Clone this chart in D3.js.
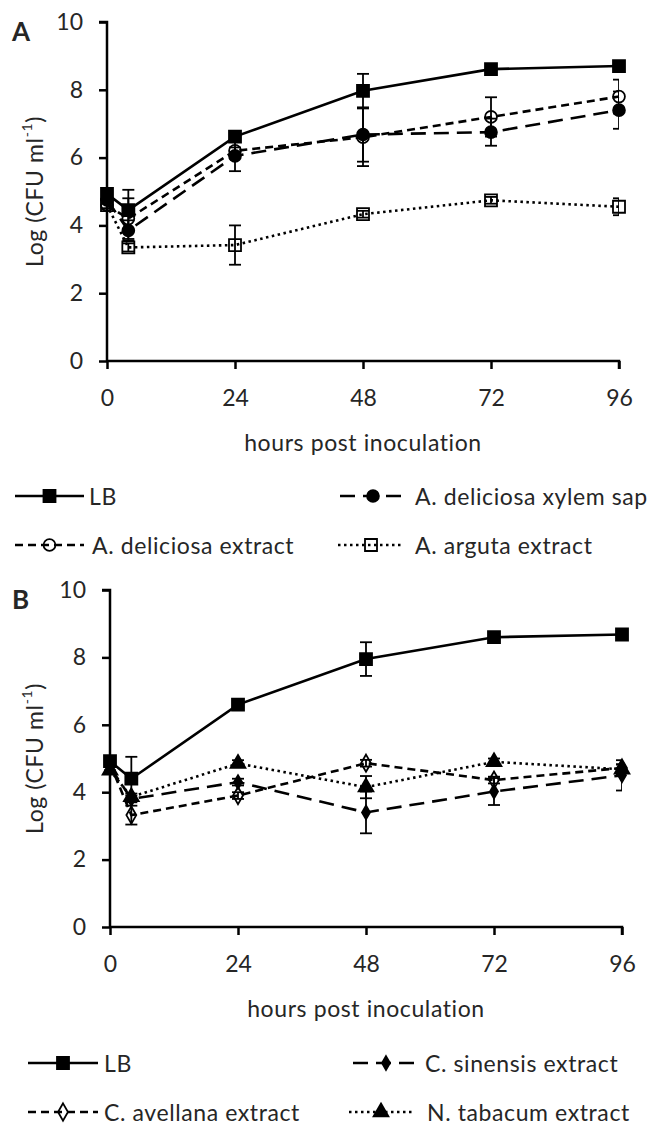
<!DOCTYPE html>
<html lang="en">
<head>
  <meta charset="UTF-8">
  <title>Growth curves</title>
  <style>
    body { margin: 0; background: #fff; }
    svg { display: block; }
    text { font-family: Lato, "Open Sans", sans-serif; fill: #262626; }
  </style>
</head>
<body>
  <div id="chart"></div>
  <script src="https://d3js.org/d3.v7.min.js"></script>
  <script>
    // sampling times (hours post inoculation)
    var hours = [0, 4, 24, 48, 72, 96];
    var xTicks = [0, 24, 48, 72, 96];
    var yTicks = [0, 2, 4, 6, 8, 10];

    // panel A
    var lbA = [4.93, 4.45, 6.62, 7.97, 8.61, 8.70];
    var lbAErr = [0.08, 0.6, 0.12, 0.5, 0.05, 0.06];
    var xylemSap = [4.75, 3.85, 6.05, 6.68, 6.75, 7.40];
    var xylemSapErr = [0.08, 0.3, 0.45, 0.8, 0.4, 0.55];
    var delExtract = [4.6, 4.2, 6.2, 6.6, 7.2, 7.8];
    var delExtractErr = [0.1, 0.6, 0.1, 0.85, 0.58, 0.5];
    var argExtract = [4.6, 3.35, 3.42, 4.33, 4.74, 4.55];
    var argExtractErr = [0.1, 0.12, 0.58, 0.1, 0.1, 0.25];

    // panel B
    var lbB = [4.92, 4.4, 6.6, 7.95, 8.6, 8.68];
    var lbBErr = [0.1, 0.65, 0.15, 0.5, 0.05, 0.05];
    var sinExtract = [4.75, 3.8, 4.3, 3.4, 4.02, 4.5];
    var sinExtractErr = [0.1, 0.1, 0.1, 0.62, 0.4, 0.45];
    var aveExtract = [4.85, 3.32, 3.9, 4.86, 4.36, 4.72];
    var aveExtractErr = [0.1, 0.28, 0.1, 0.1, 0.1, 0.1];
    var tabExtract = [4.65, 3.86, 4.85, 4.15, 4.9, 4.68];
    var tabExtractErr = [0.1, 0.1, 0.1, 0.33, 0.1, 0.15];

    var W = 651, H = 1127;
    var FS = 23, LS = 0.6;
    var svg = d3.select("#chart").append("svg")
      .attr("width", W).attr("height", H);

    var dashes = {
      solid: null,
      long: "15,8",
      short: "8,5",
      dot: "2.5,3.5"
    };

    function drawMarker(g, type, x, y) {
      var sym, size, fill = "#000";
      if (type === "square") { sym = d3.symbolSquare; size = 144; }
      else if (type === "squareOpen") { sym = d3.symbolSquare; size = 144; fill = "none"; }
      else if (type === "circle") { sym = d3.symbolCircle; size = 110; }
      else if (type === "circleOpen") { sym = d3.symbolCircle; size = 110; fill = "none"; }
      else if (type === "diamond") { sym = d3.symbolDiamond; size = 55; }
      else if (type === "diamondOpen") { sym = d3.symbolDiamond; size = 85; fill = "none"; }
      else { sym = d3.symbolTriangle; size = 95; }
      g.append("path")
        .attr("d", d3.symbol().type(sym).size(size)())
        .attr("transform", "translate(" + x + "," + y + ")")
        .attr("fill", fill)
        .attr("stroke", "#000")
        .attr("stroke-width", 1.8);
    }

    function drawPanel(cfg) {
      var x = d3.scaleLinear().domain([0, 96]).range([cfg.left, cfg.right]);
      var y = d3.scaleLinear().domain([0, 10]).range([cfg.bottom, cfg.top]);
      var g = svg.append("g");

      var clipId = "clip-" + cfg.label;
      svg.append("clipPath").attr("id", clipId)
        .append("rect")
        .attr("x", cfg.left - 20).attr("y", cfg.top - 5)
        .attr("width", cfg.right - cfg.left + 20).attr("height", cfg.bottom - cfg.top + 10);

      // axes
      var yAxis = g.append("g")
        .attr("transform", "translate(" + cfg.left + ",0)")
        .call(d3.axisLeft(y).tickValues(yTicks).tickSize(8).tickPadding(16));
      var xAxis = g.append("g")
        .attr("transform", "translate(0," + cfg.bottom + ")")
        .call(d3.axisBottom(x).tickValues(xTicks).tickSize(8).tickPadding(21));
      [xAxis, yAxis].forEach(function(a) {
        a.select(".domain").attr("stroke", "#000").attr("stroke-width", 2.5);
        a.selectAll(".tick line").attr("stroke", "#000").attr("stroke-width", 2.5);
        a.selectAll(".tick text").attr("font-size", FS).attr("fill", "#262626")
          .attr("font-family", "Lato, 'Open Sans', sans-serif");
      });
      yAxis.select(".domain").attr("d", "M0," + cfg.bottom + "V" + cfg.top + "h-8");
      xAxis.select(".domain").attr("d", "M" + cfg.left + ",0H" + cfg.right + "v8");

      // axis titles
      g.append("text")
        .attr("x", (cfg.left + cfg.right) / 2)
        .attr("y", cfg.bottom + 81)
        .attr("text-anchor", "middle")
        .attr("dominant-baseline", "central")
        .attr("font-size", FS)
        .attr("letter-spacing", LS)
        .text("hours post inoculation");

      var yl = g.append("text")
        .attr("transform", "translate(34," + ((cfg.top + cfg.bottom) / 2) + ") rotate(-90)")
        .attr("text-anchor", "middle")
        .attr("dominant-baseline", "central")
        .attr("font-size", FS)
        .attr("letter-spacing", LS);
      yl.append("tspan").text("Log (CFU ml");
      yl.append("tspan").attr("font-size", 14).attr("dy", -8).text("-1");
      yl.append("tspan").attr("dy", 8).text(")");

      g.append("text")
        .attr("x", 12).attr("y", cfg.top + 19)
        .attr("font-size", 26).attr("font-weight", "bold")
        .text(cfg.label);

      // series
      var plot = g.append("g");
      cfg.series.forEach(function(s) {
        var pts = hours.map(function(h, i) { return [x(h), y(s.values[i])]; });
        plot.append("path")
          .attr("d", d3.line()(pts))
          .attr("fill", "none")
          .attr("stroke", "#000")
          .attr("stroke-width", 2.6)
          .attr("stroke-dasharray", dashes[s.dash]);
        var eb = plot.append("g").attr("clip-path", "url(#" + clipId + ")");
        hours.forEach(function(h, i) {
          var cx = x(h), lo = y(s.values[i] - s.err[i]), hi = y(s.values[i] + s.err[i]);
          eb.append("line").attr("x1", cx).attr("x2", cx).attr("y1", lo).attr("y2", hi)
            .attr("stroke", "#000").attr("stroke-width", 1.8);
          [lo, hi].forEach(function(v) {
            eb.append("line").attr("x1", cx - 6).attr("x2", cx + 6).attr("y1", v).attr("y2", v)
              .attr("stroke", "#000").attr("stroke-width", 1.8);
          });
        });
        pts.forEach(function(p) { drawMarker(plot, s.marker, p[0], p[1]); });
      });

      // legend
      cfg.legend.forEach(function(item) {
        var s = cfg.series[item.idx];
        g.append("line")
          .attr("x1", item.x0).attr("x2", item.x1)
          .attr("y1", item.y).attr("y2", item.y)
          .attr("stroke", "#000").attr("stroke-width", 2.6)
          .attr("stroke-dasharray", dashes[s.dash]);
        drawMarker(g, s.marker, (item.x0 + item.x1) / 2, item.y);
        g.append("text")
          .attr("x", item.tx).attr("y", item.y)
          .attr("dominant-baseline", "central")
          .attr("font-size", FS)
          .attr("letter-spacing", LS)
          .text(s.name);
      });
    }

    drawPanel({
      label: "A",
      left: 107, right: 619, top: 22, bottom: 361,
      series: [
        { name: "LB", values: lbA, err: lbAErr, dash: "solid", marker: "square" },
        { name: "A. deliciosa xylem sap", values: xylemSap, err: xylemSapErr, dash: "long", marker: "circle" },
        { name: "A. deliciosa extract", values: delExtract, err: delExtractErr, dash: "short", marker: "circleOpen" },
        { name: "A. arguta extract", values: argExtract, err: argExtractErr, dash: "dot", marker: "squareOpen" }
      ],
      legend: [
        { idx: 0, x0: 15, x1: 84, y: 496, tx: 89 },
        { idx: 1, x0: 340, x1: 406, y: 496, tx: 415 },
        { idx: 2, x0: 15, x1: 84, y: 545, tx: 92 },
        { idx: 3, x0: 338, x1: 404, y: 545, tx: 415 }
      ]
    });

    drawPanel({
      label: "B",
      left: 110, right: 622, top: 590, bottom: 927,
      series: [
        { name: "LB", values: lbB, err: lbBErr, dash: "solid", marker: "square" },
        { name: "C. sinensis extract", values: sinExtract, err: sinExtractErr, dash: "long", marker: "diamond" },
        { name: "C. avellana extract", values: aveExtract, err: aveExtractErr, dash: "short", marker: "diamondOpen" },
        { name: "N. tabacum extract", values: tabExtract, err: tabExtractErr, dash: "dot", marker: "triangle" }
      ],
      legend: [
        { idx: 0, x0: 28, x1: 98, y: 1063, tx: 104 },
        { idx: 1, x0: 353, x1: 419, y: 1063, tx: 425 },
        { idx: 2, x0: 28, x1: 98, y: 1112, tx: 104 },
        { idx: 3, x0: 349, x1: 413, y: 1112, tx: 427 }
      ]
    });
  </script>
</body>
</html>
